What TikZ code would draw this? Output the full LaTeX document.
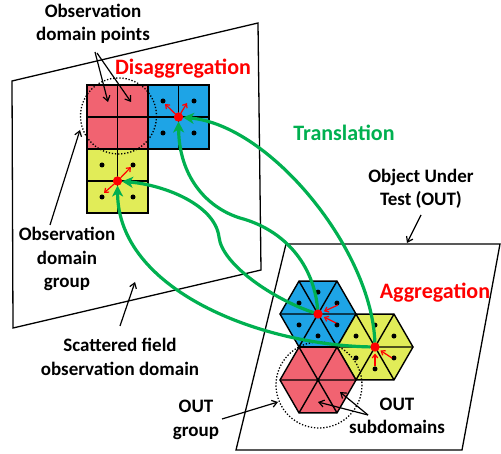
\documentclass[tikz,border=0pt]{standalone}
\usepackage{fontspec}
\setmainfont{Carlito}
\usetikzlibrary{arrows.meta,shapes.geometric}
\definecolor{pinkc}{RGB}{241,99,113}
\definecolor{bluec}{RGB}{30,164,230}
\definecolor{yellowc}{RGB}{225,236,88}
\definecolor{greenc}{RGB}{0,176,80}
\begin{document}
\begin{tikzpicture}[x=1pt,y=-1pt,
  lbl/.style={font=\bfseries\fontsize{19}{23.5}\selectfont, align=center, inner sep=0pt},
  bigred/.style={font=\bfseries\fontsize{22}{26}\selectfont, text=red, inner sep=0pt},
  biggreen/.style={font=\bfseries\fontsize{22}{26}\selectfont, text=greenc, inner sep=0pt},
  plane/.style={draw, line width=1.3pt, line join=miter},
  gridl/.style={draw, line width=1.5pt},
  hexa/.style={regular polygon, regular polygon sides=6, minimum size=76pt, inner sep=0pt, outer sep=0pt, draw, line width=1.4pt},
  rdot/.style={circle, fill=red, inner sep=0pt, outer sep=0pt, minimum size=9pt},
  gline/.style={draw=greenc, line width=3.2pt, -{Stealth[length=11pt,width=11pt,inset=3pt]}},
  rarrow/.style={draw=red, line width=1.2pt, -{Straight Barb[length=3.5pt,width=5.5pt]}},
  blkarrow/.style={draw, line width=1.2pt, -{Straight Barb[length=5pt,width=7pt]}},
  dotc/.style={draw, line width=1.3pt, dash pattern=on 1.3pt off 1.8pt},
]
\useasboundingbox (0,0) rectangle (501,454);
% planes
\draw[plane] (12,81) -- (258,23) -- (261,270) -- (13,328) -- cycle;
\draw[plane] (286,244) -- (500,244) -- (462,450) -- (236,450) -- cycle;
% grid cells
\fill[pinkc] (87,85) rectangle (148,149);
\fill[bluec] (148,85) rectangle (209,149);
\fill[yellowc] (87,149) rectangle (148,213);
\draw[gridl] (87,85) rectangle (148,149);
\draw[gridl] (148,85) rectangle (209,149);
\draw[gridl] (87,149) rectangle (148,213);
\draw[gridl] (117.5,85) -- (117.5,149) (87,117) -- (148,117);
\draw[gridl] (178.5,85) -- (178.5,149) (148,117) -- (209,117);
\draw[gridl] (117.5,149) -- (117.5,213) (87,181) -- (148,181);
% grid dots
\foreach \p in {(163,101),(194,101),(163,133),(194,133),(102,165),(133,165),(102,197),(133,197)}
  \fill \p circle[radius=2.5];
% hexagons
\node[hexa, fill=bluec] (hexb) at (318,314) {};
\node[hexa, fill=yellowc] (hexy) at (375,347) {};
\node[hexa, fill=pinkc] (hexp) at (318,380) {};
\foreach \h in {hexb,hexy,hexp}
  \draw[line width=1.4pt] (\h.corner 1) -- (\h.corner 4) (\h.corner 2) -- (\h.corner 5) (\h.corner 3) -- (\h.corner 6);
\foreach \a in {30,90,...,330} {
  \fill (318,314) ++(\a:21.9) circle[radius=2.5];
  \fill (375,347) ++(\a:21.9) circle[radius=2.5];
}
% dotted circles
\draw[dotc] (118.5,116) circle[radius=38];
\draw[dotc] (319,385) circle[radius=43];
% red dots (nodes)
\node[rdot] (bgd) at (178.5,117) {};
\node[rdot] (ygd) at (117.5,181) {};
\node[rdot] (bhd) at (318,314) {};
\node[rdot] (yhd) at (375,347) {};
% green translation curves
\coordinate (m2) at (240,218);
\coordinate (w1) at (219,237);
\draw[gline] (yhd) .. controls (372,250) and (270,125) .. (bgd);
\draw[gline] (bhd) .. controls (314,265) and (285,230) .. (m2) .. controls (205,207) and (179,175) .. (bgd);
\draw[gline] (bhd) .. controls (275,300) and (222,265) .. (w1) .. controls (215,205) and (165,185) .. (ygd);
\draw[gline] (yhd) .. controls (260,345) and (118,290) .. (ygd);
% redraw red dots on top
\node[rdot] at (178.5,117) {};
\node[rdot] at (117.5,181) {};
\node[rdot] at (318,314) {};
\node[rdot] at (375,347) {};
% red arrows: disaggregation
\coordinate (d1) at (165,104);
\coordinate (d2) at (187,103);
\coordinate (d3) at (131,167);
\coordinate (d4) at (104,193);
\draw[rarrow] (bgd) -- (d1);
\draw[rarrow] (bgd) -- (d2);
\draw[rarrow] (ygd) -- (d3);
\draw[rarrow] (ygd) -- (d4);
% red arrows: aggregation
\coordinate (a1) at (338,305);
\coordinate (a2) at (336,323);
\coordinate (a3) at (375,366);
\coordinate (a4) at (392,358);
\draw[rarrow, shorten >=2pt] (a1) -- (bhd);
\draw[rarrow, shorten >=2pt] (a2) -- (bhd);
\draw[rarrow, shorten >=2pt] (a3) -- (yhd);
\draw[rarrow, shorten >=2pt] (a4) -- (yhd);
% labels
\node[lbl] (odp) at (93,24) {Observation\\domain points};
\node[bigred] (dis) at (183,69) {Disaggregation};
\node[biggreen] (tra) at (344,133) {Translation};
\node[lbl] (out) at (421,189) {Object Under\\Test (OUT)};
\node[lbl] (odg) at (67,259) {Observation\\domain\\group};
\node[lbl] (sfod) at (120,357) {Scattered field\\observation domain};
\node[lbl] (outg) at (196,420) {OUT\\group};
\node[lbl] (outs) at (397,416) {OUT\\subdomains};
\node[bigred] (agg) at (435,293) {Aggregation};
% black arrows
\coordinate (t1) at (95,52);
\coordinate (t2) at (97,53);
\draw[blkarrow] (t1) -- (108,102);
\draw[blkarrow] (t2) -- (131,102);
\coordinate (t3) at (50,225);
\draw[blkarrow] (t3) -- (80,130);
\coordinate (t4) at (120,326);
\draw[blkarrow] (t4) -- (135,282);
\coordinate (t5) at (222,419);
\draw[blkarrow] (t5) -- (278,402);
\coordinate (t6) at (368,415);
\draw[blkarrow] (t6) -- (340,392);
\draw[blkarrow] (t6) -- (318,402);
\coordinate (t7) at (421,215);
\draw[blkarrow] (t7) -- (407,243);
\end{tikzpicture}
\end{document}
